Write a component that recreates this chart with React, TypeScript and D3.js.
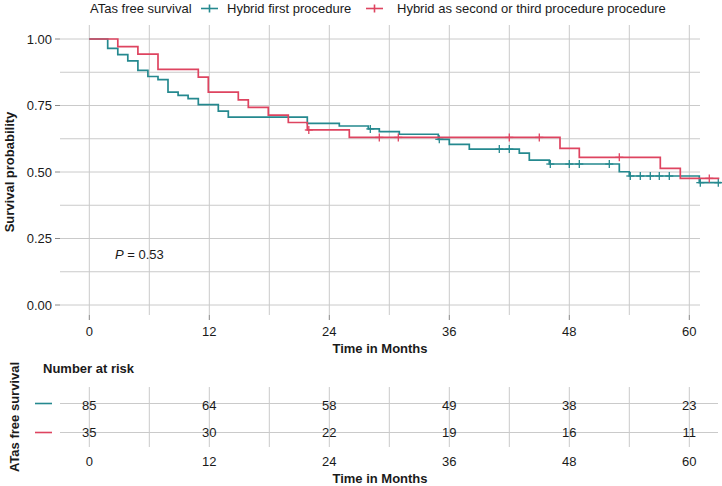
import React from "react";
import * as d3 from "d3";

// ---- data ----
const legendTitle = "ATas free survival";
const groupNames = ["Hybrid first procedure", "Hybrid as second or third procedure procedure"];
const groupColors = ["#25898F", "#DE4460"];

const tealTimes = [0, 1.84, 2.85, 3.85, 4.86, 5.86, 6.87, 7.87, 8.88, 9.88, 10.9, 12.9, 13.9, 21.8, 25, 27.9, 29, 31, 34.9, 36, 38, 43, 44, 46, 53, 54, 61];
const tealSurv = [1, 0.965, 0.941, 0.918, 0.882, 0.859, 0.847, 0.8, 0.788, 0.776, 0.753, 0.729, 0.706, 0.683, 0.673, 0.662, 0.652, 0.642, 0.623, 0.604, 0.586, 0.571, 0.545, 0.53, 0.501, 0.485, 0.46];
const tealEnd = 63.2;
const tealCensor = [28.1, 35, 41, 42, 46.1, 48, 49, 52, 54.1, 55.1, 56.1, 57, 58, 61.1, 62.9];

const redTimes = [0, 2.85, 4.86, 6.87, 10.9, 11.9, 14.9, 15.9, 17.9, 19.9, 21.8, 26, 47.07, 49, 57.1, 59.1];
const redSurv = [1, 0.971, 0.943, 0.886, 0.857, 0.8, 0.771, 0.743, 0.714, 0.686, 0.658, 0.63, 0.589, 0.555, 0.514, 0.476];
const redEnd = 63;
const redCensor = [21.95, 29, 30.9, 42, 45, 53, 62];

const xTicks = [0, 12, 24, 36, 48, 60];
const xGrid = [0, 6, 12, 18, 24, 30, 36, 42, 48, 54, 60];
const yTicks = [0, 0.25, 0.5, 0.75, 1];
const yGrid = [0, 0.125, 0.25, 0.375, 0.5, 0.625, 0.75, 0.875, 1];
const riskTeal = [85, 64, 58, 49, 38, 23];
const riskRed = [35, 30, 22, 19, 16, 11];
const pText = "0.53";

const FONT = "'Liberation Sans', Arial, Helvetica, sans-serif";

export default function App() {
  const x = d3.scaleLinear().domain([0, 60]).range([89.3, 689.3]);
  const y = d3.scaleLinear().domain([0, 1]).range([305, 39]);
  const panel = { l: 60, r: 700, t: 25, b: 315 };
  const risk = { l: 60, r: 718, t: 387, b: 447 };
  const riskRowY = [403.5, 432.5];

  const line = d3
    .line<[number, number]>()
    .x((d) => x(d[0]))
    .y((d) => y(d[1]))
    .curve(d3.curveStepAfter);

  const series = [
    { times: tealTimes, surv: tealSurv, end: tealEnd, censor: tealCensor, color: groupColors[0] },
    { times: redTimes, surv: redSurv, end: redEnd, censor: redCensor, color: groupColors[1] },
  ];

  const survAt = (times: number[], surv: number[], t: number) => {
    let s = surv[0];
    for (let i = 0; i < times.length; i++) if (times[i] <= t) s = surv[i];
    return s;
  };

  const grid = "#CACACA";
  const txt = "#1A1A1A";

  return (
    <div style={{ position: "fixed", left: 0, top: 0 }}>
      <svg width={722} height={486} style={{ display: "block", background: "#fff" }} fontFamily={FONT}>
        {/* legend */}
        <g fontSize={13} fill={txt}>
          <text x={90} y={13}>{legendTitle}</text>
          {[201, 366].map((lx, i) => (
            <g key={i} stroke={groupColors[i]} strokeWidth={1.6}>
              <line x1={lx} x2={lx + 17} y1={8.5} y2={8.5} />
              <line x1={lx + 8.5} x2={lx + 8.5} y1={4.5} y2={12.5} />
            </g>
          ))}
          <text x={227} y={13}>{groupNames[0]}</text>
          <text x={397} y={13}>{groupNames[1]}</text>
        </g>

        {/* main grid */}
        <g stroke={grid} strokeWidth={1}>
          {yGrid.map((v) => (
            <line key={"h" + v} x1={panel.l} x2={panel.r} y1={y(v)} y2={y(v)} />
          ))}
          {xGrid.map((v) => (
            <line key={"v" + v} x1={x(v)} x2={x(v)} y1={panel.t} y2={panel.b} />
          ))}
          {yTicks.map((v) => (
            <line key={"yt" + v} x1={55} x2={60} y1={y(v)} y2={y(v)} stroke="#888" />
          ))}
          {xTicks.map((v) => (
            <line key={"xt" + v} x1={x(v)} x2={x(v)} y1={315} y2={320} stroke="#888" />
          ))}
        </g>

        {/* y tick labels */}
        <g fontSize={13} fill={txt} textAnchor="end">
          {yTicks.map((v) => (
            <text key={v} x={52} y={y(v)} dy="0.35em">
              {d3.format(".2f")(v)}
            </text>
          ))}
        </g>
        {/* x tick labels */}
        <g fontSize={13} fill={txt} textAnchor="middle">
          {xTicks.map((v) => (
            <text key={v} x={x(v)} y={331} dy="0.35em">
              {v}
            </text>
          ))}
        </g>
        <text x={380} y={348} dy="0.35em" textAnchor="middle" fontSize={13} fontWeight="bold" fill={txt}>
          Time in Months
        </text>
        <text
          transform="translate(9,172) rotate(-90)"
          textAnchor="middle"
          dy="0.35em"
          fontSize={13}
          fontWeight="bold"
          fill={txt}
        >
          Survival probability
        </text>

        {/* curves */}
        {series.map((s, i) => {
          const pts: [number, number][] = s.times.map((t, k) => [t, s.surv[k]] as [number, number]);
          pts.push([s.end, s.surv[s.surv.length - 1]]);
          return (
            <g key={i}>
              <path d={line(pts) || ""} fill="none" stroke={s.color} strokeWidth={1.7} />
              {s.censor.map((c, k) => {
                const cx = x(c);
                const cy = y(survAt(s.times, s.surv, c));
                return (
                  <g key={k} stroke={s.color} strokeWidth={1.3}>
                    <line x1={cx} x2={cx} y1={cy - 4} y2={cy + 4} />
                    <line x1={cx - 4} x2={cx + 4} y1={cy} y2={cy} />
                  </g>
                );
              })}
            </g>
          );
        })}

        {/* p value */}
        <text x={115} y={254} dy="0.35em" fontSize={13} fill={txt}>
          <tspan fontStyle="italic">P</tspan>
          <tspan> = {pText}</tspan>
        </text>

        {/* risk table */}
        <text x={43} y={368} dy="0.35em" fontSize={13} fontWeight="bold" fill={txt}>
          Number at risk
        </text>
        <text
          transform="translate(14,417) rotate(-90)"
          textAnchor="middle"
          dy="0.35em"
          fontSize={13}
          fontWeight="bold"
          fill={txt}
        >
          {legendTitle}
        </text>
        <g stroke={grid} strokeWidth={1}>
          {riskRowY.map((ry, i) => (
            <line key={"rh" + i} x1={risk.l} x2={risk.r} y1={ry} y2={ry} />
          ))}
          {xGrid.map((v) => (
            <line key={"rv" + v} x1={x(v)} x2={x(v)} y1={risk.t} y2={risk.b} />
          ))}
        </g>
        {riskRowY.map((ry, i) => (
          <line key={"rl" + i} x1={35} x2={52} y1={ry} y2={ry} stroke={groupColors[i]} strokeWidth={1.6} />
        ))}
        <g fontSize={13} fill={txt} textAnchor="middle">
          {xTicks.map((v, k) => (
            <g key={v}>
              <text x={x(v)} y={riskRowY[0] + 1.5} dy="0.35em">{riskTeal[k]}</text>
              <text x={x(v)} y={riskRowY[1]} dy="0.35em">{riskRed[k]}</text>
              <text x={x(v)} y={461} dy="0.35em">{v}</text>
            </g>
          ))}
        </g>
        <text x={380} y={478} dy="0.35em" textAnchor="middle" fontSize={13} fontWeight="bold" fill={txt}>
          Time in Months
        </text>
      </svg>
    </div>
  );
}
